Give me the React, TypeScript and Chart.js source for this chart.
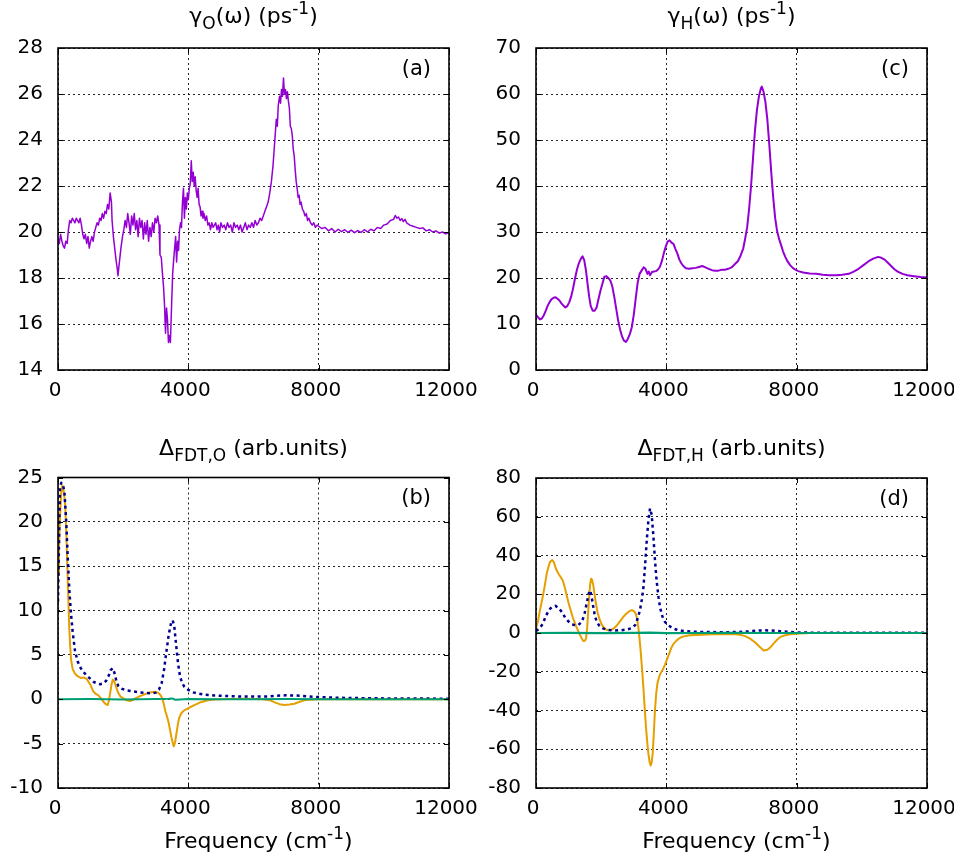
import React, { useEffect, useRef } from 'react';
import { Chart, registerables } from 'chart.js';

Chart.register(...registerables);

const FONT = '"DejaVu Sans", "Liberation Sans", Arial, sans-serif';

// ---------- Panel (a): gamma_O(omega) ----------
const freqA = [0, 40, 80, 120, 160, 200, 240, 280, 320, 360, 400, 440, 480, 520, 560, 600, 640, 680, 720, 760, 800, 840, 880, 920, 960, 1000, 1040, 1080, 1120, 1160, 1200, 1240, 1280, 1320, 1360, 1400, 1440, 1480, 1520, 1560, 1600, 1640, 1660, 1700, 1740, 1780, 1820, 1840, 1870, 1900, 1940, 1980, 2020, 2060, 2100, 2140, 2180, 2220, 2260, 2300, 2340, 2380, 2420, 2460, 2500, 2540, 2580, 2620, 2660, 2700, 2740, 2780, 2820, 2860, 2900, 2940, 2980, 3020, 3060, 3100, 3130, 3170, 3200, 3240, 3270, 3300, 3330, 3360, 3390, 3420, 3450, 3490, 3520, 3550, 3580, 3610, 3640, 3670, 3700, 3730, 3760, 3790, 3820, 3850, 3880, 3910, 3940, 3970, 4000, 4030, 4060, 4090, 4120, 4150, 4180, 4210, 4240, 4270, 4300, 4330, 4360, 4390, 4420, 4450, 4480, 4520, 4560, 4600, 4640, 4680, 4720, 4760, 4800, 4840, 4880, 4920, 4960, 5000, 5050, 5100, 5150, 5200, 5250, 5300, 5350, 5400, 5450, 5500, 5550, 5600, 5650, 5700, 5750, 5800, 5850, 5900, 5950, 6000, 6050, 6100, 6150, 6200, 6250, 6300, 6350, 6400, 6450, 6500, 6550, 6600, 6650, 6700, 6730, 6760, 6800, 6830, 6860, 6890, 6920, 6950, 6980, 7010, 7040, 7070, 7100, 7130, 7160, 7190, 7220, 7250, 7280, 7310, 7340, 7370, 7400, 7430, 7460, 7500, 7540, 7580, 7620, 7660, 7700, 7750, 7800, 7850, 7900, 7950, 8000, 8100, 8200, 8300, 8400, 8500, 8600, 8700, 8800, 8900, 9000, 9100, 9200, 9300, 9400, 9500, 9600, 9700, 9800, 9900, 10000, 10100, 10200, 10300, 10350, 10400, 10450, 10500, 10550, 10600, 10650, 10700, 10800, 10900, 11000, 11100, 11200, 11300, 11400, 11500, 11600, 11700, 11800, 11900, 12000];
const gammaO = [19.7, 19.5, 19.9, 19.6, 19.4, 19.3, 19.6, 19.5, 20.1, 20.5, 20.4, 20.6, 20.5, 20.4, 20.6, 20.5, 20.4, 20.6, 20.3, 19.9, 19.7, 19.9, 19.5, 19.8, 19.3, 19.6, 19.8, 19.6, 20.0, 20.2, 20.4, 20.3, 20.6, 20.5, 20.8, 20.6, 20.9, 20.8, 21.2, 21.0, 21.7, 21.3, 20.5, 19.8, 19.3, 18.8, 18.4, 18.1, 18.5, 18.9, 19.4, 19.8, 20.1, 20.5, 20.2, 20.8, 20.4, 19.9, 20.7, 20.3, 20.8, 20.1, 20.5, 19.8, 20.6, 20.2, 20.5, 19.7, 20.4, 19.9, 20.5, 19.6, 20.2, 19.8, 20.4, 20.0, 20.6, 20.4, 20.7, 20.3, 19.0, 18.9, 18.3, 17.6, 16.8, 15.6, 16.7, 16.2, 15.2, 15.5, 15.2, 17.0, 18.2, 18.8, 19.3, 19.8, 18.7, 19.6, 19.2, 20.1, 20.4, 20.2, 21.3, 21.9, 20.6, 21.5, 21.0, 21.7, 21.4, 21.9, 22.1, 23.1, 22.2, 22.6, 22.0, 22.4, 21.8, 21.5, 21.9, 21.2, 21.1, 20.7, 20.9, 20.6, 20.8, 20.5, 20.7, 20.3, 20.4, 20.1, 20.4, 20.2, 20.3, 20.4, 20.1, 20.3, 20.0, 20.4, 20.2, 20.3, 20.1, 20.4, 20.2, 20.3, 20.0, 20.4, 20.2, 20.3, 20.1, 20.3, 20.0, 20.2, 20.4, 20.1, 20.3, 20.2, 20.4, 20.2, 20.5, 20.3, 20.4, 20.6, 20.5, 20.7, 20.9, 21.1, 21.3, 21.7, 22.2, 22.9, 23.9, 24.9, 24.6, 25.5, 25.9, 25.6, 26.2, 25.9, 26.7, 26.0, 26.2, 25.8, 26.1, 25.7, 25.4, 24.6, 24.5, 24.2, 23.6, 23.3, 22.7, 22.2, 21.9, 21.5, 21.6, 21.2, 21.3, 21.0, 20.9, 20.7, 20.8, 20.5, 20.6, 20.4, 20.3, 20.4, 20.2, 20.3, 20.25, 20.15, 20.2, 20.05, 20.15, 20.0, 20.12, 20.02, 20.1, 19.98, 20.08, 19.97, 20.06, 19.98, 20.1, 20.0, 20.12, 20.05, 20.2, 20.15, 20.3, 20.35, 20.5, 20.55, 20.72, 20.6, 20.65, 20.5, 20.58, 20.45, 20.55, 20.4, 20.3, 20.25, 20.2, 20.15, 20.18, 20.05, 20.1, 20.0, 20.05, 19.95, 20.0, 19.92, 19.98];

// ---------- Panel (c): gamma_H(omega) ----------
const freqC = [0, 60, 120, 180, 240, 300, 360, 420, 480, 540, 600, 660, 720, 780, 840, 900, 960, 1020, 1080, 1140, 1200, 1260, 1320, 1380, 1430, 1480, 1530, 1580, 1630, 1680, 1740, 1800, 1860, 1920, 1980, 2040, 2100, 2160, 2220, 2280, 2340, 2400, 2460, 2520, 2580, 2640, 2700, 2760, 2820, 2880, 2940, 3000, 3060, 3120, 3180, 3240, 3300, 3360, 3420, 3460, 3500, 3560, 3620, 3680, 3740, 3800, 3860, 3920, 3980, 4040, 4100, 4160, 4220, 4280, 4340, 4400, 4460, 4520, 4600, 4700, 4800, 4900, 5000, 5100, 5200, 5300, 5400, 5500, 5600, 5700, 5800, 5900, 6000, 6100, 6200, 6280, 6360, 6420, 6480, 6540, 6600, 6660, 6720, 6780, 6840, 6900, 6930, 6980, 7040, 7100, 7160, 7220, 7280, 7340, 7400, 7460, 7520, 7580, 7650, 7720, 7800, 7880, 7960, 8050, 8200, 8400, 8600, 8800, 9000, 9200, 9400, 9600, 9750, 9900, 10050, 10200, 10350, 10500, 10600, 10700, 10800, 10900, 11000, 11100, 11250, 11400, 11600, 11800, 12000];
const gammaH = [12.0, 11.5, 11.0, 11.2, 11.9, 12.9, 14.0, 14.8, 15.4, 15.7, 15.8, 15.5, 15.1, 14.5, 14.0, 13.6, 13.9, 14.7, 16.0, 17.8, 20.0, 21.9, 23.3, 24.2, 24.7, 23.9, 21.8, 18.9, 16.0, 13.9, 12.9, 12.9, 13.6, 15.5, 17.3, 18.8, 20.3, 20.4, 20.0, 19.5, 18.2, 16.0, 13.4, 10.8, 8.8, 7.3, 6.4, 6.1, 6.8, 7.8, 9.3, 12.0, 15.5, 19.0, 20.9, 21.6, 22.3, 22.0, 20.9, 21.4, 20.6, 21.3, 21.4, 21.5, 21.8, 22.4, 23.6, 25.3, 26.8, 27.9, 28.2, 27.7, 27.4, 26.3, 25.3, 24.0, 23.2, 22.6, 22.1, 22.0, 22.1, 22.2, 22.4, 22.6, 22.3, 22.0, 21.7, 21.6, 21.6, 21.8, 21.8, 22.0, 22.3, 23.0, 23.7, 24.9, 26.4, 28.6, 31.0, 35.0, 40.0, 46.0, 52.0, 56.5, 59.4, 61.2, 61.6, 60.6, 58.3, 54.5, 49.0, 43.0, 37.5, 33.0, 30.2, 28.5, 27.2, 25.8, 24.6, 23.6, 22.8, 22.2, 21.8, 21.5, 21.2, 21.0, 20.9, 20.7, 20.6, 20.6, 20.7, 20.9, 21.4, 22.0, 22.8, 23.6, 24.2, 24.6, 24.4, 24.0, 23.3, 22.6, 21.9, 21.4, 20.9, 20.6, 20.4, 20.2, 20.1];

// ---------- Panel (b): Delta_FDT,O ----------
const freqBBlue = [0, 30, 60, 100, 150, 200, 250, 300, 350, 400, 450, 520, 600, 700, 800, 900, 1000, 1100, 1200, 1300, 1400, 1480, 1560, 1620, 1680, 1730, 1790, 1850, 1950, 2100, 2300, 2500, 2700, 2900, 3000, 3100, 3180, 3250, 3320, 3400, 3470, 3520, 3570, 3620, 3680, 3740, 3800, 3880, 4000, 4150, 4300, 4500, 4800, 5200, 5600, 6000, 6400, 6700, 7000, 7300, 7600, 8000, 8500, 9000, 10000, 11000, 12000];
const deltaOBlue = [11, 17.5, 23.8, 24.4, 24.3, 23.2, 20.2, 15.9, 12.2, 9.6, 7.6, 5.5, 4.3, 3.5, 3.0, 2.6, 2.3, 1.95, 1.8, 1.7, 1.8, 2.1, 2.7, 3.3, 3.5, 3.0, 2.1, 1.5, 1.2, 1.0, 0.9, 0.78, 0.7, 0.68, 0.75, 1.1, 1.8, 3.2, 5.2, 7.3, 8.6, 8.9, 8.2, 6.3, 4.2, 2.7, 1.9, 1.4, 1.05, 0.78, 0.65, 0.52, 0.42, 0.36, 0.32, 0.3, 0.32, 0.4, 0.45, 0.42, 0.35, 0.25, 0.18, 0.14, 0.1, 0.08, 0.07];
const freqBOrange = [0, 30, 60, 100, 135, 170, 215, 250, 290, 320, 345, 370, 400, 450, 520, 600, 700, 800, 880, 950, 1000, 1080, 1160, 1240, 1320, 1400, 1470, 1525, 1560, 1600, 1640, 1680, 1730, 1790, 1850, 1920, 2000, 2100, 2210, 2300, 2410, 2520, 2620, 2750, 2870, 2980, 3080, 3150, 3200, 3250, 3300, 3350, 3400, 3450, 3500, 3550, 3590, 3630, 3680, 3720, 3780, 3850, 3950, 4050, 4200, 4400, 4600, 4800, 5200, 5800, 6300, 6500, 6650, 6800, 6950, 7100, 7250, 7400, 7550, 7700, 8000, 9000, 12000];
const deltaOOrange = [14, 17, 20.4, 23.3, 24.1, 23.6, 22.2, 19.5, 14.5, 11, 8, 6.2, 4.5, 3.4, 2.9, 2.6, 2.4, 2.45, 2.3, 1.9, 1.6, 0.9, 0.6, 0.45, 0.1, -0.3, -0.55, -0.65, -0.2, 0.7, 1.6, 2.2, 2.0, 1.3, 0.7, 0.3, 0.1, -0.1, -0.2, -0.05, 0.15, 0.35, 0.5, 0.7, 0.8, 0.85, 0.72, 0.45, 0.1, -0.6, -1.4, -2.0, -2.7, -3.7, -4.6, -5.3, -4.9, -4.0, -2.8, -2.1, -1.6, -1.3, -1.1, -0.9, -0.64, -0.3, -0.1, -0.02, 0.03, 0.05, 0.0, -0.1, -0.35, -0.55, -0.65, -0.6, -0.5, -0.3, -0.12, -0.04, 0.0, 0.0, 0.0];
const freqBGreen = [0, 1000, 2000, 3000, 3400, 3500, 3600, 4000, 5000, 6000, 7000, 8000, 10000, 12000];
const deltaOGreen = [0.0, 0.03, -0.02, 0.02, 0.05, 0.1, -0.05, 0.02, 0.01, 0.0, 0.02, 0.0, 0.0, 0.0];

// ---------- Panel (d): Delta_FDT,H ----------
const freqDBlue = [0, 100, 200, 300, 400, 500, 600, 700, 800, 900, 1000, 1100, 1200, 1300, 1400, 1480, 1550, 1620, 1660, 1700, 1740, 1800, 1860, 1950, 2050, 2200, 2400, 2600, 2800, 2950, 3050, 3120, 3190, 3250, 3300, 3350, 3400, 3450, 3500, 3550, 3600, 3650, 3700, 3760, 3810, 3880, 3960, 4050, 4150, 4300, 4500, 4800, 5200, 5800, 6200, 6500, 6800, 7000, 7200, 7500, 7800, 8100, 8600, 9500, 12000];
const deltaHBlue = [1.0, 2.2, 4.5, 8.6, 12.0, 13.6, 14.0, 12.8, 10.7, 7.8, 5.9, 4.5, 4.0, 4.1, 5.7, 9.0, 15.0, 20.5, 22.0, 19.5, 15.2, 9.5, 5.8, 3.6, 2.4, 1.6, 1.3, 1.4, 1.8, 2.6, 4.2, 7.5, 11.7, 17.5, 24.0, 35.5, 48.0, 58.3, 64.3, 61.0, 50.5, 38.0, 27.2, 18.5, 13.0, 8.5, 5.7, 4.0, 3.0, 1.8, 1.1, 0.7, 0.5, 0.4, 0.5, 0.8, 1.2, 1.4, 1.3, 0.9, 0.5, 0.25, 0.15, 0.1, 0.08];
const freqDOrange = [0, 60, 120, 180, 225, 280, 330, 380, 430, 500, 550, 583, 630, 685, 750, 818, 880, 940, 1000, 1065, 1130, 1200, 1270, 1330, 1400, 1450, 1500, 1535, 1570, 1605, 1635, 1660, 1690, 1720, 1760, 1800, 1840, 1890, 1945, 2000, 2065, 2140, 2220, 2300, 2375, 2450, 2525, 2600, 2680, 2760, 2835, 2900, 2960, 3010, 3060, 3100, 3140, 3175, 3210, 3250, 3295, 3335, 3375, 3415, 3450, 3485, 3520, 3550, 3580, 3615, 3650, 3690, 3725, 3765, 3805, 3860, 3910, 3960, 4010, 4090, 4165, 4240, 4320, 4400, 4470, 4600, 4720, 4900, 5130, 5400, 5650, 5900, 6100, 6260, 6420, 6570, 6720, 6870, 6990, 7100, 7200, 7290, 7400, 7500, 7650, 7800, 7950, 8110, 8400, 9000, 12000];
const deltaHOrange = [2.5, 6, 11.7, 16.5, 20.3, 25.5, 30.7, 34.0, 36.7, 37.6, 36.5, 34.5, 32.5, 30.7, 29.0, 27.2, 23.8, 19.5, 15.5, 11.7, 8.0, 4.8, 2.0, -0.3, -2.6, -4.1, -4.0, -2.9, 2.5, 11.7, 19.5, 24.7, 28.0, 27.5, 24.5, 19.5, 15.2, 10.6, 7.4, 5.0, 3.1, 1.9, 1.4, 1.6, 2.2, 3.3, 4.8, 6.5, 8.3, 9.8, 10.9, 11.6, 11.7, 11.2, 10.0, 7.5, 3.1, -2.5, -9.0, -17.5, -27.9, -38.5, -48.6, -56.5, -62.4, -66.5, -68.4, -66.8, -62.4, -52.0, -40.0, -31.0, -26.2, -23.5, -21.4, -19.8, -18.2, -16.3, -14.1, -10.5, -7.2, -5.2, -3.8, -2.7, -2.1, -1.5, -1.2, -1.0, -0.9, -0.6, -0.5, -0.6, -0.7, -0.9, -1.6, -2.9, -4.8, -7.2, -9.0, -8.7, -7.3, -5.5, -3.5, -2.0, -1.2, -0.7, -0.35, -0.2, -0.05, 0, 0];
const freqDGreen = [0, 1000, 2000, 3000, 3500, 4000, 5000, 6000, 7000, 8000, 10000, 12000];
const deltaHGreen = [0.0, 0.1, -0.1, 0.1, 0.2, -0.1, 0.0, 0.1, 0.0, 0.0, 0.0, 0.0];

// ---------- tick labels ----------
const xTicks = [0, 4000, 8000, 12000];
const yTicksA = [14, 28, 2];
const yTicksC = [0, 70, 10];
const yTicksB = [-10, 25, 5];
const yTicksD = [-80, 80, 20];

const PURPLE = '#9400D3';
const ORANGE = '#E69F00';
const GREEN = '#009E73';
const NAVY = '#000090';

type Seg = { t: string; m?: 'sub' | 'sup' };

const titleA: Seg[] = [{ t: 'γ' }, { t: 'O', m: 'sub' }, { t: '(ω) (ps' }, { t: '-1', m: 'sup' }, { t: ')' }];
const titleC: Seg[] = [{ t: 'γ' }, { t: 'H', m: 'sub' }, { t: '(ω) (ps' }, { t: '-1', m: 'sup' }, { t: ')' }];
const titleB: Seg[] = [{ t: 'Δ' }, { t: 'FDT,O', m: 'sub' }, { t: ' (arb.units)' }];
const titleD: Seg[] = [{ t: 'Δ' }, { t: 'FDT,H', m: 'sub' }, { t: ' (arb.units)' }];
const xLabel: Seg[] = [{ t: 'Frequency (cm' }, { t: '-1', m: 'sup' }, { t: ')' }];

function xy(xs: number[], ys: number[]) {
  return xs.map((x, i) => ({ x, y: ys[i] }));
}

function drawRich(ctx: CanvasRenderingContext2D, segs: Seg[], cx: number, baseY: number, size: number) {
  ctx.save();
  ctx.fillStyle = '#000';
  ctx.textBaseline = 'alphabetic';
  ctx.textAlign = 'left';
  const small = Math.round(size * 0.75);
  const widths = segs.map((s) => {
    ctx.font = `${s.m ? small : size}px ${FONT}`;
    return ctx.measureText(s.t).width;
  });
  const total = widths.reduce((a, b) => a + b, 0);
  let x = cx - total / 2;
  segs.forEach((s, i) => {
    ctx.font = `${s.m ? small : size}px ${FONT}`;
    const dy = s.m === 'sub' ? size * 0.26 : s.m === 'sup' ? -size * 0.4 : 0;
    ctx.fillText(s.t, x, baseY + dy);
    x += widths[i];
  });
  ctx.restore();
}

type PanelSpec = {
  left: number; top: number; width: number; height: number;
  area: { left: number; top: number; right: number; bottom: number };
  yt: number[];
  title: Seg[]; titleBase: number;
  tag: string;
  xlabel: boolean;
  datasets: any[];
};

function Panel({ spec }: { spec: PanelSpec }) {
  const ref = useRef<HTMLCanvasElement | null>(null);
  useEffect(() => {
    if (!ref.current) return;
    const { area } = spec;
    const padTop = area.top - spec.top;
    const padRight = spec.left + spec.width - area.right;
    const yW = area.left - spec.left;
    const xH = spec.top + spec.height - area.bottom;

    const deco = {
      id: 'deco',
      afterDraw(chart: any) {
        const ctx: CanvasRenderingContext2D = chart.ctx;
        const ca = chart.chartArea;
        ctx.save();
        ctx.strokeStyle = '#000';
        ctx.lineWidth = 1;
        ctx.setLineDash([]);
        const tl = 5;
        const xs = chart.scales.x;
        const ys = chart.scales.y;
        ctx.beginPath();
        xs.ticks.forEach((t: any) => {
          const p = Math.round(xs.getPixelForValue(t.value)) + 0.5;
          ctx.moveTo(p, ca.bottom); ctx.lineTo(p, ca.bottom - tl);
          ctx.moveTo(p, ca.top); ctx.lineTo(p, ca.top + tl);
        });
        ys.ticks.forEach((t: any) => {
          const p = Math.round(ys.getPixelForValue(t.value)) + 0.5;
          ctx.moveTo(ca.left, p); ctx.lineTo(ca.left + tl, p);
          ctx.moveTo(ca.right, p); ctx.lineTo(ca.right - tl, p);
        });
        ctx.stroke();
        ctx.lineWidth = 1.6;
        ctx.strokeRect(ca.left, ca.top, ca.right - ca.left, ca.bottom - ca.top);
        ctx.restore();

        const cx = (ca.left + ca.right) / 2;
        drawRich(ctx, spec.title, cx, spec.titleBase - spec.top, 22);
        if (spec.xlabel) drawRich(ctx, xLabel, cx + 5, 848 - spec.top, 22);
        ctx.save();
        ctx.fillStyle = '#000';
        ctx.font = `21px ${FONT}`;
        ctx.textAlign = 'right';
        ctx.textBaseline = 'alphabetic';
        ctx.fillText(spec.tag, ca.right - 18, ca.top + 26.5);
        ctx.restore();
      },
    };

    const chart = new Chart(ref.current, {
      type: 'line',
      data: { datasets: spec.datasets },
      options: {
        responsive: false,
        animation: false,
        events: [],
        layout: { padding: { left: 0, top: padTop, right: padRight, bottom: 0 } },
        plugins: { legend: { display: false }, tooltip: { enabled: false }, title: { display: false } },
        elements: { point: { radius: 0 }, line: { tension: 0 } },
        scales: {
          x: {
            type: 'linear',
            min: xTicks[0],
            max: xTicks[xTicks.length - 1],
            afterFit: (s: any) => { s.height = xH; s.paddingLeft = 0; s.paddingRight = 0; },
            afterBuildTicks: (s: any) => { s.ticks = xTicks.map((v) => ({ value: v })); },
            ticks: {
              color: '#000', font: { family: FONT, size: 20 }, padding: 9, labelOffset: -3,
              maxRotation: 0, autoSkip: false, callback: (v: any) => String(v),
            },
            grid: { color: 'rgba(0,0,0,0.85)', lineWidth: 1, drawTicks: false },
            border: { display: false, dash: [2, 3] },
          },
          y: {
            type: 'linear',
            min: spec.yt[0],
            max: spec.yt[1],
            afterFit: (s: any) => { s.width = yW; s.paddingTop = 0; s.paddingBottom = 0; },
            ticks: {
              stepSize: spec.yt[2], color: '#000', font: { family: FONT, size: 20 }, padding: 15,
              autoSkip: false, callback: (v: any) => String(v),
            },
            grid: { color: 'rgba(0,0,0,0.85)', lineWidth: 1, drawTicks: false },
            border: { display: false, dash: [2, 3] },
          },
        },
      } as any,
      plugins: [deco],
    });
    return () => chart.destroy();
  }, [spec]);
  return (
    <canvas
      ref={ref}
      width={spec.width}
      height={spec.height}
      style={{ position: 'absolute', left: spec.left, top: spec.top, width: spec.width, height: spec.height }}
    />
  );
}

const lineDs = (data: any, color: string, width: number, dash?: number[]) => ({
  data,
  borderColor: color,
  borderWidth: width,
  borderDash: dash || [],
  borderJoinStyle: 'round',
  pointRadius: 0,
  fill: false,
});

const specs: PanelSpec[] = [
  {
    left: 0, top: 0, width: 484, height: 420,
    area: { left: 58, top: 48, right: 449, bottom: 370 },
    yt: yTicksA, title: titleA, titleBase: 23, tag: '(a)', xlabel: false,
    datasets: [lineDs(xy(freqA, gammaO), PURPLE, 1.5)],
  },
  {
    left: 470, top: 0, width: 484, height: 420,
    area: { left: 536, top: 48, right: 927, bottom: 370 },
    yt: yTicksC, title: titleC, titleBase: 23, tag: '(c)', xlabel: false,
    datasets: [lineDs(xy(freqC, gammaH), PURPLE, 2)],
  },
  {
    left: 0, top: 420, width: 484, height: 439,
    area: { left: 58, top: 477.5, right: 449, bottom: 788 },
    yt: yTicksB, title: titleB, titleBase: 455, tag: '(b)', xlabel: true,
    datasets: [
      lineDs(xy(freqBGreen, deltaOGreen), GREEN, 2),
      lineDs(xy(freqBBlue, deltaOBlue), NAVY, 2.5, [3, 3.5]),
      lineDs(xy(freqBOrange, deltaOOrange), ORANGE, 2),
    ],
  },
  {
    left: 470, top: 420, width: 484, height: 439,
    area: { left: 536, top: 478, right: 927, bottom: 788 },
    yt: yTicksD, title: titleD, titleBase: 455, tag: '(d)', xlabel: true,
    datasets: [
      lineDs(xy(freqDGreen, deltaHGreen), GREEN, 2.2),
      lineDs(xy(freqDBlue, deltaHBlue), NAVY, 2.5, [3, 3.5]),
      lineDs(xy(freqDOrange, deltaHOrange), ORANGE, 2),
    ],
  },
];

export default function App() {
  return (
    <div style={{ position: 'absolute', left: 0, top: 0, width: 954, height: 859, background: '#fff', overflow: 'hidden' }}>
      {specs.map((s, i) => (
        <Panel key={i} spec={s} />
      ))}
    </div>
  );
}
